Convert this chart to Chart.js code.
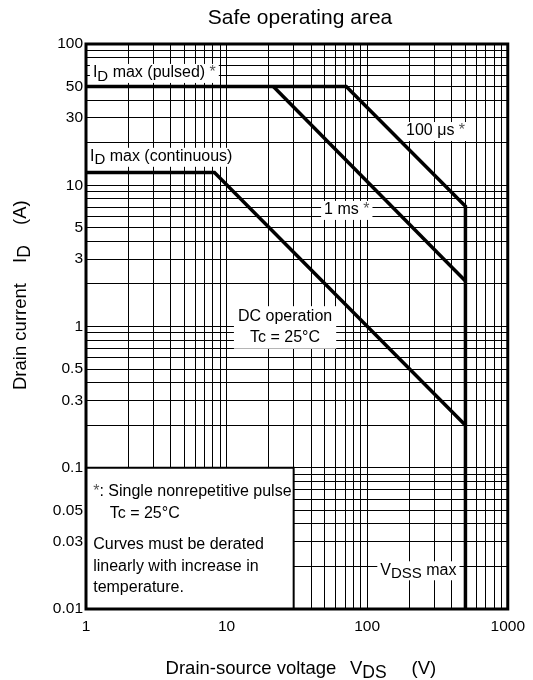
<!DOCTYPE html>
<html>
<head>
<meta charset="utf-8">
<script src="https://cdn.jsdelivr.net/npm/chart.js@4.4.0/dist/chart.umd.min.js"></script>
<style>
  html, body { margin: 0; padding: 0; background: #fff; }
  canvas { display: block; }
</style>
</head>
<body>
<canvas id="soa" width="533" height="680"></canvas>
<script>
// Safe operating area chart (log-log), drawn with Chart.js
const FONT = '"Liberation Sans", Arial, sans-serif';

// Boundary curves: VDS (V) / ID (A)
const vds100us = [1, 71, 500, 500];
const id100us = [50, 50, 7.1, 0.01];
const vds1ms = [21.5, 500];
const id1ms = [50, 2.1];
const vdsDC = [1, 8.2, 500];
const idDC = [12.3, 12.3, 0.2];

// Labelled ticks
const xTickLabels = [1, 10, 100, 1000];
const yTickLabels = [0.01, 0.03, 0.05, 0.1, 0.3, 0.5, 1, 3, 5, 10, 30, 50, 100];

// Grid lines at 1..9 of every decade
function decadeGrid(fromExp, toExp) {
    const out = [];
    for (let e = fromExp; e < toExp; e++) {
        for (let m = 1; m <= 9; m++) {
            out.push(e < 0 ? m / Math.pow(10, -e) : m * Math.pow(10, e));
        }
    }
    out.push(Math.pow(10, toExp));
    return out;
}
const gridX = decadeGrid(0, 3);
const gridY = decadeGrid(-2, 2);

// Text labels, anchored in data coordinates (x = VDS, y = ID)
const curveLabels = [
    { parts: [['I'], ['D', 'sub'], [' max (pulsed) '], ['*', 'star']], x: 1.12, y: 62.4 },
    { parts: [['I'], ['D', 'sub'], [' max (continuous)']], x: 1.067, y: 15.9 },
    { parts: [['100 μs '], ['*', 'star']], x: 189, y: 24.2 },
    { parts: [['1 ms '], ['*', 'star']], x: 49.4, y: 6.69 },
    { parts: [['V'], ['DSS', 'sub'], [' max']], x: 124, y: 0.0188 }
];
const dcLabel = { lines: ['DC operation', 'Tc = 25°C'], x: 26.06, y: [1.183, 0.833] };
const noteBox = { x0: 1, x1: 30, y0: 0.01, y1: 0.1 };
const noteLines = [
    { parts: [['*', 'star'], [': Single nonrepetitive pulse']], x: 1.125, y: 0.0679 },
    { parts: [['Tc = 25°C']], x: 1.475, y: 0.0477 },
    { parts: [['Curves must be derated']], x: 1.125, y: 0.02847 },
    { parts: [['linearly with increase in']], x: 1.125, y: 0.02 },
    { parts: [['temperature.']], x: 1.125, y: 0.01419 }
];

function toPoints(xs, ys) {
    return xs.map((x, i) => ({ x: x, y: ys[i] }));
}

function isLabelled(list, v) {
    return list.some(t => Math.abs(t - v) / t < 1e-6);
}

/**
 * Draw a run of text pieces; 'sub' pieces are lowered, 'star' pieces are grey
 */
function measureParts(ctx, parts, size) {
    let w = 0;
    parts.forEach(p => {
        ctx.font = (p[1] === 'sub' ? size - 1 : size) + 'px ' + FONT;
        w += ctx.measureText(p[0]).width;
    });
    return w;
}

function drawParts(ctx, parts, x, y, size) {
    let cx = x;
    parts.forEach(p => {
        const sub = p[1] === 'sub';
        ctx.font = (sub ? size - 1 : size) + 'px ' + FONT;
        ctx.fillStyle = p[1] === 'star' ? '#555' : '#000';
        ctx.fillText(p[0], cx, sub ? y + size * 0.22 : y);
        cx += ctx.measureText(p[0]).width;
    });
}

const labelPlugin = {
    id: 'labelPlugin',
    beforeDatasetsDraw: function(chart) {
        const ctx = chart.ctx;
        const xs = chart.scales.x;
        const ys = chart.scales.y;
        const size = 16;
        ctx.save();
        ctx.textBaseline = 'middle';
        ctx.textAlign = 'left';

        // note box in the lower left corner
        const bx0 = xs.getPixelForValue(noteBox.x0);
        const bx1 = xs.getPixelForValue(noteBox.x1);
        const by0 = ys.getPixelForValue(noteBox.y1);
        const by1 = ys.getPixelForValue(noteBox.y0);
        ctx.fillStyle = '#fff';
        ctx.fillRect(bx0, by0, bx1 - bx0, by1 - by0);
        ctx.strokeStyle = '#000';
        ctx.lineWidth = 2;
        ctx.strokeRect(bx0, by0, bx1 - bx0, by1 - by0);
        noteLines.forEach(l => {
            drawParts(ctx, l.parts, xs.getPixelForValue(l.x), ys.getPixelForValue(l.y), size);
        });

        // curve labels on white
        curveLabels.forEach(l => {
            const px = xs.getPixelForValue(l.x);
            const py = ys.getPixelForValue(l.y);
            const w = measureParts(ctx, l.parts, size);
            ctx.fillStyle = '#fff';
            ctx.fillRect(px - 3, py - 9, w + 6, 19);
            drawParts(ctx, l.parts, px, py, size);
        });

        // DC operation, two centred lines
        ctx.font = size + 'px ' + FONT;
        const cx = xs.getPixelForValue(dcLabel.x);
        const yTop = ys.getPixelForValue(dcLabel.y[0]);
        const yBot = ys.getPixelForValue(dcLabel.y[1]);
        const wMax = Math.max(...dcLabel.lines.map(t => ctx.measureText(t).width));
        ctx.fillStyle = '#fff';
        ctx.fillRect(cx - wMax / 2 - 4, yTop - 10, wMax + 8, yBot - yTop + 21);
        ctx.fillStyle = '#000';
        ctx.textAlign = 'center';
        dcLabel.lines.forEach((t, i) => {
            ctx.fillText(t, cx, ys.getPixelForValue(dcLabel.y[i]));
        });
        ctx.restore();
    },
    afterDraw: function(chart) {
        const ctx = chart.ctx;
        const a = chart.chartArea;
        ctx.save();
        // heavy frame
        ctx.strokeStyle = '#000';
        ctx.lineWidth = 3;
        ctx.strokeRect(a.left, a.top, a.right - a.left, a.bottom - a.top);

        // title
        ctx.fillStyle = '#000';
        ctx.textBaseline = 'alphabetic';
        ctx.textAlign = 'center';
        ctx.font = '21px ' + FONT;
        ctx.fillText('Safe operating area', 300, 24);

        // x axis title
        ctx.textAlign = 'left';
        const ts = 18.5;
        drawParts(ctx, [['Drain-source voltage']], 165.6, 674, ts);
        drawParts(ctx, [['V'], ['DS', 'sub']], 350, 674, ts);
        drawParts(ctx, [['(V)']], 411.6, 674, ts);

        // y axis title, rotated
        ctx.translate(25.5, 0);
        ctx.rotate(-Math.PI / 2);
        drawParts(ctx, [['Drain current']], -390, 0, ts);
        drawParts(ctx, [['I'], ['D', 'sub']], -263, 0, ts);
        drawParts(ctx, [['(A)']], -225, 0, ts);
        ctx.restore();
    }
};

const lineStyle = {
    borderColor: '#000',
    borderWidth: 3.5,
    pointRadius: 0,
    tension: 0,
    fill: false,
    borderJoinStyle: 'miter'
};

new Chart(document.getElementById('soa').getContext('2d'), {
    type: 'line',
    data: {
        datasets: [
            Object.assign({ label: '100 μs', data: toPoints(vds100us, id100us) }, lineStyle),
            Object.assign({ label: '1 ms', data: toPoints(vds1ms, id1ms) }, lineStyle),
            Object.assign({ label: 'DC', data: toPoints(vdsDC, idDC) }, lineStyle)
        ]
    },
    options: {
        responsive: false,
        animation: false,
        events: [],
        layout: { padding: { left: 0, top: 44, right: 20, bottom: 0 } },
        plugins: {
            legend: { display: false },
            tooltip: { enabled: false },
            title: { display: false }
        },
        scales: {
            x: {
                type: 'logarithmic',
                min: 1,
                max: 1000,
                afterBuildTicks: function(scale) {
                    scale.ticks = gridX.map(v => ({ value: v }));
                },
                afterFit: function(scale) {
                    scale.height = 71;
                },
                ticks: {
                    autoSkip: false,
                    maxRotation: 0,
                    padding: 8,
                    color: '#000',
                    font: { family: FONT, size: 15.5 },
                    callback: function(value) {
                        return isLabelled(xTickLabels, value) ? String(value) : '';
                    }
                },
                grid: { color: '#000', lineWidth: 1, drawTicks: false },
                border: { display: false }
            },
            y: {
                type: 'logarithmic',
                min: 0.01,
                max: 100,
                afterBuildTicks: function(scale) {
                    scale.ticks = gridY.map(v => ({ value: v }));
                },
                afterFit: function(scale) {
                    scale.width = 86;
                },
                ticks: {
                    autoSkip: false,
                    padding: 3,
                    color: '#000',
                    font: { family: FONT, size: 15.5 },
                    callback: function(value) {
                        return isLabelled(yTickLabels, value) ? String(+value.toPrecision(3)) : '';
                    }
                },
                grid: { color: '#000', lineWidth: 1, drawTicks: false },
                border: { display: false }
            }
        }
    },
    plugins: [labelPlugin]
});
</script>
</body>
</html>
